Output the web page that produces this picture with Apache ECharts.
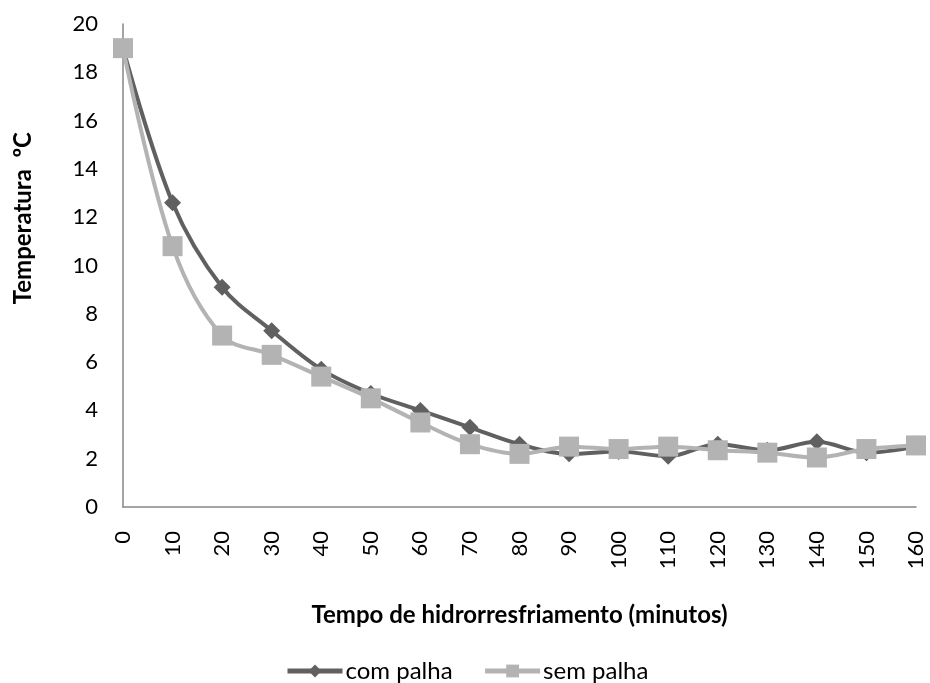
<!DOCTYPE html>
<html>
<head>
<meta charset="utf-8">
<script src="https://cdn.jsdelivr.net/npm/echarts@6/dist/echarts.min.js"></script>
<style>
html,body{margin:0;padding:0;background:#fff;}
#chart{width:930px;height:683px;}
</style>
</head>
<body>
<div id="chart"></div>
<script>
const categories = ['0','10','20','30','40','50','60','70','80','90','100','110','120','130','140','150','160'];
const comPalha = [19, 12.6, 9.1, 7.3, 5.7, 4.7, 4.0, 3.3, 2.6, 2.2, 2.3, 2.1, 2.6, 2.35, 2.7, 2.25, 2.5];
const semPalha = [19, 10.8, 7.1, 6.3, 5.4, 4.5, 3.5, 2.6, 2.2, 2.5, 2.4, 2.5, 2.35, 2.25, 2.05, 2.4, 2.55];
const yTicks = {min: 0, max: 20, interval: 2};

const FONT = 'Lato, "Open Sans", sans-serif';
const chart = echarts.init(document.getElementById('chart'));
chart.setOption({
  animation: false,
  backgroundColor: '#ffffff',
  grid: {left: 123, right: 14, top: 24, bottom: 176, containLabel: false},
  xAxis: {
    type: 'category',
    data: categories,
    boundaryGap: false,
    axisLine: {lineStyle: {color: '#868686', width: 1.5}},
    axisTick: {show: false},
    axisLabel: {rotate: 90, fontSize: 22, color: '#000', fontFamily: FONT, margin: 24},
    name: 'Tempo de hidrorresfriamento (minutos)',
    nameLocation: 'middle',
    nameGap: 96,
    nameTextStyle: {fontSize: 24, fontWeight: 'bold', color: '#000', fontFamily: FONT}
  },
  yAxis: {
    type: 'value',
    min: yTicks.min, max: yTicks.max, interval: yTicks.interval,
    axisLine: {show: true, lineStyle: {color: '#868686', width: 1.5}},
    axisTick: {show: false},
    splitLine: {show: false},
    axisLabel: {fontSize: 22, color: '#000', fontFamily: FONT, margin: 25}
  },
  graphic: [{
    type: 'text',
    left: 11, top: 132,
    rotation: Math.PI / 2,
    style: {text: 'Temperatura  ºC', fontSize: 24, fontWeight: 'bold', fill: '#000', fontFamily: FONT}
  }],
  legend: {
    left: 280,
    top: 654,
    itemWidth: 55,
    itemHeight: 16,
    itemGap: 30,
    lineStyle: {width: 5},
    textStyle: {fontSize: 24, color: '#000', fontFamily: FONT, padding: [0, 0, 0, -2]},
    data: ['com palha', 'sem palha']
  },
  series: [
    {
      name: 'com palha', type: 'line', data: comPalha, smooth: 0.35,
      symbol: 'diamond', symbolSize: [17, 17],
      lineStyle: {color: '#606060', width: 4},
      itemStyle: {color: '#606060'},
      z: 2
    },
    {
      name: 'sem palha', type: 'line', data: semPalha, smooth: 0.35,
      symbol: 'rect', symbolSize: 20,
      lineStyle: {color: '#b3b3b3', width: 4},
      itemStyle: {color: '#b3b3b3'},
      z: 3
    }
  ]
});
</script>
</body>
</html>
